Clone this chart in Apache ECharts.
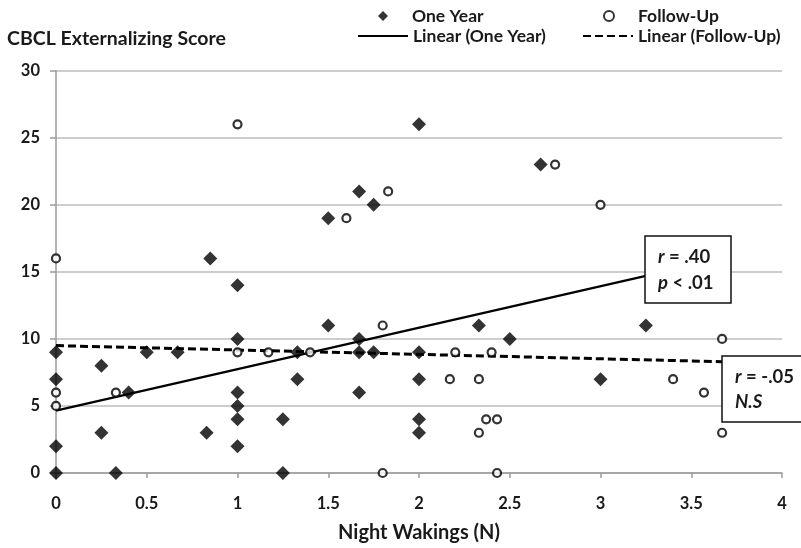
<!DOCTYPE html>
<html>
<head>
<meta charset="utf-8">
<script src="https://cdn.jsdelivr.net/npm/echarts@6/dist/echarts.min.js"></script>
<style>
html,body{margin:0;padding:0;background:#fff;}
#chart{width:801px;height:548px;}
</style>
</head>
<body>
<div id="chart"></div>
<script>
// One Year: [night wakings, CBCL externalizing score]
var oneYear = [
  [0, 9], [0, 7], [0, 2], [0, 0],
  [0.25, 8], [0.25, 3], [0.33, 0], [0.4, 6],
  [0.5, 9], [0.67, 9], [0.83, 3], [0.85, 16],
  [1, 14], [1, 10], [1, 6], [1, 5], [1, 4], [1, 2],
  [1.25, 4], [1.25, 0], [1.33, 9], [1.33, 7],
  [1.5, 19], [1.5, 11],
  [1.67, 21], [1.67, 10], [1.67, 9], [1.67, 6],
  [1.75, 20], [1.75, 9],
  [2, 26], [2, 9], [2, 7], [2, 4], [2, 3],
  [2.33, 11], [2.5, 10], [2.67, 23],
  [3, 7], [3.25, 11]
];
// Follow-Up
var followUp = [
  [0, 16], [0, 6], [0, 5], [0.33, 6],
  [1, 26], [1, 9], [1.17, 9], [1.4, 9],
  [1.6, 19], [1.83, 21], [1.8, 11], [1.8, 0],
  [2.2, 9], [2.17, 7], [2.33, 7], [2.33, 3],
  [2.37, 4], [2.43, 4], [2.4, 9], [2.43, 0],
  [2.75, 23], [3, 20],
  [3.4, 7], [3.57, 6], [3.67, 10], [3.67, 3]
];
// Linear trend lines (endpoints)
var oneYearTrend = [[0, 4.65], [3.25, 14.7]];
var followUpTrend = [[0, 9.5], [3.67, 8.3]];

var xTicks = {min: 0, max: 4, interval: 0.5};
var yTicks = {min: 0, max: 30, interval: 5};

var FONT = 'Lato';
var INK = '#1a1a1a';
var chart = echarts.init(document.getElementById('chart'), null, {renderer: 'canvas'});

var legendText = {fontFamily: FONT, fontWeight: 'bold', fontSize: 17.5, color: INK};
var legendTextPad = {fontFamily: FONT, fontWeight: 'bold', fontSize: 17.5, color: INK, padding: [0, 0, 0, 19]};
var richItalic = {i: {fontStyle: 'italic', fontWeight: 'bold', fontSize: 18.5, fontFamily: FONT, fill: INK}};

function lg(name, left, top, w, ts) {
  return {data: [name], left: left, top: top, itemWidth: w, itemHeight: 10,
          textStyle: ts, selectedMode: false, padding: 0};
}

chart.setOption({
  animation: false,
  backgroundColor: '#fff',
  grid: {left: 56, right: 19, top: 70.7, bottom: 66.3, containLabel: false},
  legend: [
    lg('One Year', 378, 7, 10, legendTextPad),
    lg('Follow-Up', 603, 7, 10, legendTextPad),
    lg('Linear (One Year)', 357, 27, 50, legendText),
    lg('Linear (Follow-Up)', 582, 27, 50, legendText)
  ],
  xAxis: {
    type: 'value', min: xTicks.min, max: xTicks.max, interval: xTicks.interval,
    name: 'Night Wakings (N)', nameLocation: 'middle', nameGap: 50,
    nameTextStyle: {fontFamily: FONT, fontWeight: 'bold', fontSize: 20, color: INK},
    axisLine: {show: true, lineStyle: {color: '#9a9a9a', width: 1.5}},
    axisTick: {show: true, length: 5, lineStyle: {color: '#9a9a9a', width: 1.5}},
    axisLabel: {fontFamily: FONT, fontWeight: 'bold', fontSize: 16.5, color: INK, margin: 22},
    splitLine: {show: false}
  },
  yAxis: {
    type: 'value', min: yTicks.min, max: yTicks.max, interval: yTicks.interval,
    axisLine: {show: true, lineStyle: {color: '#9a9a9a', width: 1.5}},
    axisTick: {show: true, length: 6, lineStyle: {color: '#9a9a9a', width: 1.5}},
    axisLabel: {fontFamily: FONT, fontWeight: 'bold', fontSize: 16.5, color: INK, margin: 16},
    splitLine: {show: true, lineStyle: {color: '#bdbdbd', width: 1.5}}
  },
  series: [
    {name: 'One Year', type: 'scatter', data: oneYear, symbol: 'diamond', symbolSize: 14,
     itemStyle: {color: '#000'}, z: 5},
    {name: 'Follow-Up', type: 'scatter', data: followUp, symbol: 'circle', symbolSize: 8,
     itemStyle: {color: '#fff', borderColor: '#000', borderWidth: 2.2}, z: 5},
    {name: 'Linear (One Year)', type: 'line', data: oneYearTrend, symbol: 'none', showSymbol: false,
     itemStyle: {color: '#000', opacity: 0},
     lineStyle: {color: '#000', width: 2.2, type: 'solid', opacity: 1}, z: 3},
    {name: 'Linear (Follow-Up)', type: 'line', data: followUpTrend, symbol: 'none', showSymbol: false,
     itemStyle: {color: '#000', opacity: 0},
     lineStyle: {color: '#000', width: 3, type: [8, 4], opacity: 1}, z: 3}
  ],
  graphic: [
    {type: 'text', x: 7, y: 39, style: {text: 'CBCL Externalizing Score', font: 'bold 19.5px ' + FONT, fill: INK, verticalAlign: 'middle'}},
    {type: 'rect', shape: {x: 645, y: 236, width: 86, height: 67}, style: {fill: '#fff', stroke: '#111', lineWidth: 1.5}, z: 10},
    {type: 'text', x: 658, y: 257, z: 11, style: {text: '{i|r} = .40', font: 'bold 18.5px ' + FONT, fill: INK, verticalAlign: 'middle', rich: richItalic}},
    {type: 'text', x: 658, y: 283, z: 11, style: {text: '{i|p} < .01', font: 'bold 18.5px ' + FONT, fill: INK, verticalAlign: 'middle', rich: richItalic}},
    {type: 'rect', shape: {x: 722, y: 356, width: 90, height: 66}, style: {fill: '#fff', stroke: '#111', lineWidth: 1.5}, z: 10},
    {type: 'text', x: 735, y: 377, z: 11, style: {text: '{i|r} = -.05', font: 'bold 18.5px ' + FONT, fill: INK, verticalAlign: 'middle', rich: richItalic}},
    {type: 'text', x: 735, y: 402, z: 11, style: {text: 'N.S', font: 'italic bold 18.5px ' + FONT, fill: INK, verticalAlign: 'middle'}}
  ]
});
</script>
</body>
</html>
